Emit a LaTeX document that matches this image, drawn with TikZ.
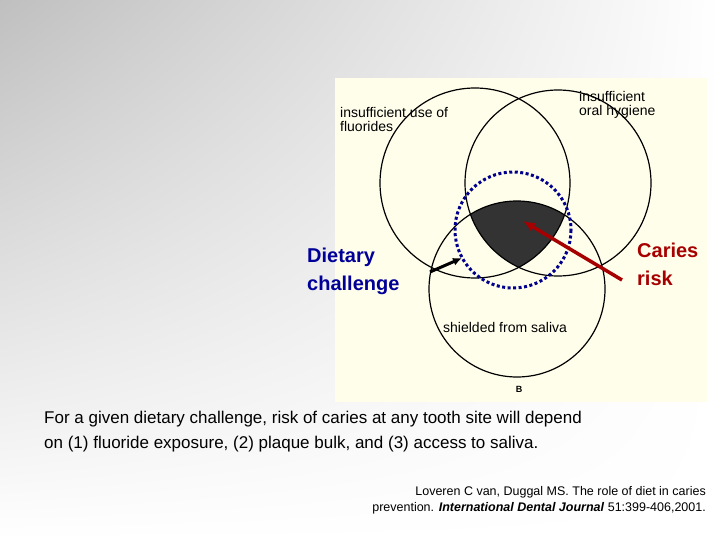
\documentclass[tikz,border=0pt]{standalone}
\usepackage{fontspec}
\usetikzlibrary{arrows.meta,shadings}
\setmainfont{Liberation Sans}
\begin{document}
\begin{tikzpicture}[x=1pt,y=-1pt,
  ring/.style={draw=black,line width=1.2pt},
  lbl/.style={anchor=base west,inner sep=0pt,font=\fontsize{14}{16}\selectfont,align=left},
  side/.style={anchor=base west,inner sep=0pt,font=\fontsize{20}{28}\selectfont\bfseries,align=left}]
\useasboundingbox (0,0) rectangle (720,540);
\shade[upper left=black!25,upper right=white,lower left=white,lower right=white] (0,0) rectangle (720,540);
\fill[white!92!yellow] (335,78) rectangle (707,402);
\begin{scope}
\clip (475,183) circle (95);
\clip (558,183) circle (93);
\fill[black!80] (517,289) circle (88);
\end{scope}
\draw[ring] (475,183) circle (95);
\draw[ring] (558,183) circle (93);
\draw[ring] (517,289) circle (88);
\draw[draw=blue!55!black,line width=3pt,dash pattern=on 3pt off 2.5pt] (513,230) circle (58);
\node[lbl] (f) at (340,132) {insufficient use of\\[-2pt]fluorides};
\node[lbl] (h) at (579,116) {insufficient\\[-2pt]oral hygiene};
\node[lbl] (s) at (443,332) {shielded from saliva};
\node[anchor=base,inner sep=0pt,font=\fontsize{9}{10}\selectfont\bfseries] (b) at (519,392) {B};
\node[side,text=blue!60!black] (d) at (307,290) {Dietary\\challenge};
\node[side,text=red!65!black] (c) at (637,285) {Caries\\risk};
\coordinate (da) at (430,272); \coordinate (db) at (462,258);
\coordinate (ca) at (622,280); \coordinate (cb) at (523,221);
\draw[-{Latex[length=9pt,width=8pt]},line width=3pt] (da) -- (db);
\draw[-{Latex[length=12pt,width=10pt]},line width=3.5pt,red!65!black] (ca) -- (cb);
\node[anchor=base west,inner sep=0pt,font=\fontsize{17}{25}\selectfont,align=left] (cap) at (44,448) {For a given dietary challenge, risk of caries at any tooth site will depend\\on (1) fluoride exposure, (2) plaque bulk, and (3) access to saliva.};
\node[anchor=base east,inner sep=0pt,font=\fontsize{12.5}{16}\selectfont,align=right] (ref) at (706,511) {Loveren C van, Duggal MS. The role of diet in caries\\prevention. \textbf{\textit{International Dental Journal}} 51:399-406,2001.};
\end{tikzpicture}
\end{document}
